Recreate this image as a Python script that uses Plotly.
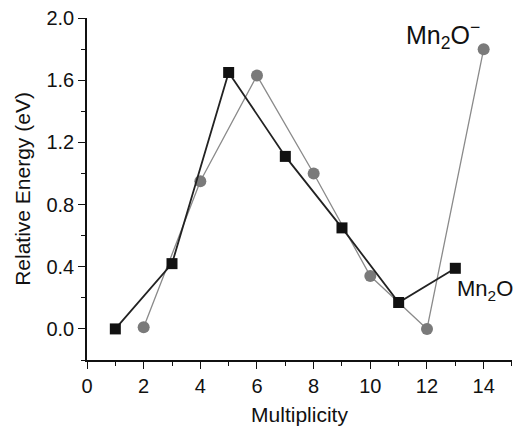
import plotly.graph_objects as go

mn2o_mult = [1, 3, 5, 7, 9, 11, 13]
mn2o_energy = [0.0, 0.42, 1.65, 1.11, 0.65, 0.17, 0.39]
mn2o_anion_mult = [2, 4, 6, 8, 10, 12, 14]
mn2o_anion_energy = [0.01, 0.95, 1.63, 1.00, 0.34, 0.00, 1.80]

font = "Liberation Sans, Arial, Helvetica, sans-serif"

fig = go.Figure()
fig.add_trace(go.Scatter(
    x=mn2o_anion_mult, y=mn2o_anion_energy, mode="lines+markers",
    line=dict(color="#8a8a8a", width=1.3),
    marker=dict(symbol="circle", size=12, color="#7a7a7a"),
    showlegend=False))
fig.add_trace(go.Scatter(
    x=mn2o_mult, y=mn2o_energy, mode="lines+markers",
    line=dict(color="#222222", width=1.8),
    marker=dict(symbol="square", size=11, color="#111111"),
    showlegend=False))

fig.add_annotation(x=12.55, y=1.89, xref="x", yref="y", text="Mn<sub>2</sub>O<sup>−</sup>",
                   showarrow=False, font=dict(family=font, size=25, color="#111111"))
fig.add_annotation(x=13.0, y=0.25, xref="x", yref="y", text="Mn<sub>2</sub>O", xanchor="left",
                   showarrow=False, font=dict(family=font, size=22, color="#111111"))

axis_common = dict(showgrid=False, zeroline=False, showline=True, linecolor="#111111", linewidth=1.5,
                   ticks="outside", ticklen=7, tickwidth=1.3, tickcolor="#111111",
                   ticklabeloverflow="allow", automargin=False,
                   tickfont=dict(family=font, size=20, color="#111111"),
                   minor=dict(ticks="outside", ticklen=4, tickwidth=1.2, tickcolor="#111111"))

fig.update_xaxes(range=[0, 15.0005], tick0=0, dtick=2, minor_dtick=1,
                 title=dict(text="Multiplicity", font=dict(family=font, size=21, color="#111111"), standoff=12),
                 **axis_common)
fig.update_yaxes(range=[-0.2, 2.0005], tick0=0, dtick=0.4, minor_dtick=0.2, tickformat=".1f",
                 title=dict(text="Relative Energy (eV)", font=dict(family=font, size=21, color="#111111"), standoff=10),
                 **axis_common)

# page body has an 8px margin; shift the plot so it lands where the reference draws it
fig.update_layout(width=522, height=428, margin=dict(l=79, r=18, t=10, b=76),
                  plot_bgcolor="white", paper_bgcolor="white")

fig.write_html("out.html")
